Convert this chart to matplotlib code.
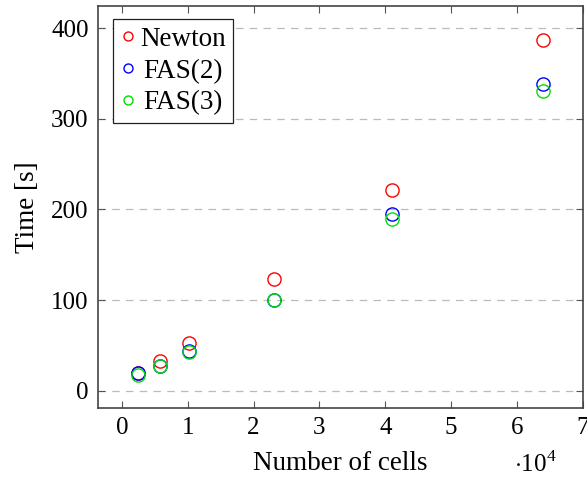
import matplotlib
matplotlib.use("Agg")
import matplotlib.pyplot as plt
import matplotlib.ticker as ticker

# Daten (Anzahl Zellen in 10^4, Zeit in s)
cells = [0.25, 0.58, 1.02, 2.31, 4.10, 6.40]
newton = [20, 33, 53, 123, 222, 387]
fas2 = [19, 27, 44, 100, 195, 338]
fas3 = [17, 27, 43, 100, 190, 331]

plt.rcParams['font.family'] = ['Liberation Serif', 'DejaVu Serif']
plt.rcParams['font.size'] = 18
plt.rcParams['mathtext.fontset'] = 'custom'
plt.rcParams['mathtext.rm'] = 'Liberation Serif'

fig = plt.figure(figsize=(5.87, 4.8), dpi=100)
ax = fig.add_axes([98.3 / 587, 72.3 / 480, 484.4 / 587, 401.7 / 480])

mk = dict(linestyle='none', marker='o', markerfacecolor='none', markersize=9.5, markeredgewidth=1.0)
ax.plot(cells, newton, color='red', label='Newton', **mk)
ax.plot(cells, fas2, color='blue', label='FAS(2)', **mk)
ax.plot(cells, fas3, color='#00e000', label='FAS(3)', **mk)

ax.set_xlim(-0.36, 7.0)
ax.set_ylim(-18.8, 424.6)
ax.xaxis.set_major_locator(ticker.MultipleLocator(1))
ax.yaxis.set_major_locator(ticker.MultipleLocator(100))
ax.tick_params(direction='in', top=True, right=True, length=5, width=0.8,
               color='#555555', pad=7)
for s in ax.spines.values():
    s.set_color('#444444')
    s.set_linewidth(1.2)

# Raster nur horizontal, gestrichelt
ax.yaxis.grid(True, linestyle=(0, (6, 5)), color='#bbbbbb', linewidth=0.9)
ax.set_axisbelow(True)

ax.set_xlabel('Number of cells', labelpad=8, fontsize=19.5)
ax.set_ylabel('Time [s]', labelpad=8, fontsize=19.5)
fig.text(514 / 587, 1 - 472 / 480, r'$\cdot10^4$', ha='left', va='baseline')

leg = ax.legend(loc='upper left', bbox_to_anchor=(0.031, 0.967), fancybox=False,
                edgecolor='#222222', framealpha=1, handlelength=0.5,
                handletextpad=0.2, borderpad=0.28, labelspacing=0.25,
                markerscale=0.68, borderaxespad=0, fontsize=19.5)
leg.get_frame().set_linewidth(0.9)

# Legendentexte zentrieren wie im Original
fig.canvas.draw()
r = fig.canvas.get_renderer()
widths = [t.get_window_extent(r).width for t in leg.get_texts()]
for t, w in zip(leg.get_texts(), widths):
    t.set_x((max(widths) - w) / 2)

fig.savefig('out.png', dpi=100)
